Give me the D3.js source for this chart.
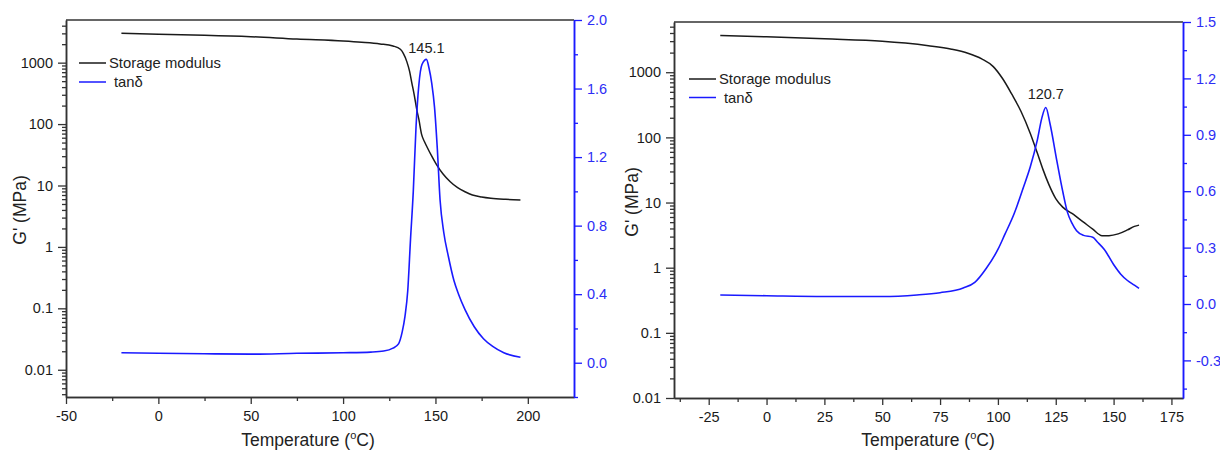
<!DOCTYPE html>
<html>
<head>
<meta charset="utf-8">
<script src="https://cdn.jsdelivr.net/npm/d3@7"></script>
<style>
  body { margin: 0; background: #fff; }
  svg { font-family: "Liberation Sans", Arial, sans-serif; }
</style>
</head>
<body>
<svg width="1220" height="451"></svg>
<script>
// left panel: storage modulus (MPa) and tan delta vs temperature
var modTempA = [-20, 0, 25, 50, 75, 100, 110, 120, 127, 131, 132.6, 134.5, 136, 137.2, 138.5, 140, 141, 142.5, 144, 145.5, 148, 150.5, 154, 158, 162, 166, 170, 175, 180, 188, 196];
var modA = [3000, 2900, 2800, 2650, 2420, 2250, 2150, 2020, 1870, 1650, 1420, 1040, 720, 470, 300, 165, 120, 68, 52, 42, 30, 22, 15.5, 11.5, 9.2, 7.9, 7.0, 6.5, 6.2, 5.95, 5.8];
var tanTempA = [-20, 0, 25, 50, 75, 100, 115, 122, 127, 130, 132, 133.5, 135, 136.5, 138, 139.5, 141, 142.7, 145.1, 146.5, 148, 149.5, 151, 152.5, 154.5, 157, 160, 162.5, 166, 171, 176, 181, 187, 196];
var tanA = [0.058, 0.055, 0.052, 0.050, 0.055, 0.058, 0.062, 0.068, 0.085, 0.11, 0.18, 0.27, 0.42, 0.72, 1.0, 1.38, 1.62, 1.74, 1.77, 1.72, 1.63, 1.49, 1.25, 0.95, 0.76, 0.62, 0.48, 0.40, 0.31, 0.21, 0.14, 0.095, 0.058, 0.032];
var peakA = 145.1;

// right panel
var modTempB = [-20, 0, 25, 50, 60, 70, 80, 87, 93, 98, 102, 106, 110, 114, 117, 119.5, 122, 125, 128, 132, 137, 141, 145, 148, 152, 156, 159, 161];
var modB = [3650, 3500, 3250, 3000, 2800, 2550, 2250, 1950, 1600, 1220, 800, 460, 250, 115, 58, 32, 19, 11.5, 8.5, 6.8, 5.0, 3.9, 3.1, 3.1, 3.3, 3.8, 4.3, 4.5];
var tanTempB = [-20, 0, 25, 50, 65, 75, 85, 90, 95, 100, 103, 107, 111, 114, 117, 119, 120.7, 122.5, 125.5, 128, 130, 132, 134, 137, 141, 143, 146, 150, 153, 156, 159, 161];
var tanB = [0.048, 0.044, 0.040, 0.040, 0.048, 0.060, 0.085, 0.115, 0.19, 0.29, 0.37, 0.48, 0.62, 0.73, 0.87, 0.99, 1.045, 0.96, 0.76, 0.60, 0.49, 0.43, 0.39, 0.365, 0.355, 0.33, 0.29, 0.21, 0.16, 0.125, 0.10, 0.083];
var peakB = 120.7;

// tick values
var xMajorA = [-50, 0, 50, 100, 150, 200];
var xMinorA = [-25, 25, 75, 125, 175];
var xMajorB = [-25, 0, 25, 50, 75, 100, 125, 150, 175];
var xMinorB = [-37.5, -12.5, 12.5, 37.5, 62.5, 87.5, 112.5, 137.5, 162.5];
var logMajorA = [0.01, 0.1, 1, 10, 100, 1000];
var logMajorB = [0.01, 0.1, 1, 10, 100, 1000];
var tanMajorA = [0, 0.4, 0.8, 1.2, 1.6, 2.0];
var tanMinorA = [-0.2, 0.2, 0.6, 1.0, 1.4, 1.8];
var tanMajorB = [-0.3, 0, 0.3, 0.6, 0.9, 1.2, 1.5];
var tanMinorB = [-0.45, -0.15, 0.15, 0.45, 0.75, 1.05, 1.35];

var black = "#1a1a1a", blue = "#1a1aff", blueText = "#2d2df5";
var svg = d3.select("svg");

function zip(a, b) {
  return a.map(function(d, i) { return [d, b[i]]; });
}

// minor log ticks (2..9 times each decade) inside the domain
function logMinor(domain) {
  var out = [];
  for (var e = -4; e <= 4; e++) {
    for (var k = 2; k <= 9; k++) {
      var v = k * Math.pow(10, e);
      if (v >= domain[0] && v <= domain[1]) out.push(v);
    }
  }
  return out;
}

function styleAxis(sel, color, textColor) {
  sel.selectAll("path.domain").attr("stroke", color).attr("stroke-width", 1.5);
  sel.selectAll(".tick line").attr("stroke", color).attr("stroke-width", 1.3);
  sel.selectAll("text").attr("fill", textColor).attr("font-size", "14.5px")
    .attr("font-family", "'Liberation Sans', Arial, sans-serif");
}

function panel(p) {
  var g = svg.append("g");
  var x = d3.scaleLinear().domain(p.xDomain).range([p.x0, p.x1]);
  var yLog = d3.scaleLog().domain(p.logDomain).range([p.y1, p.y0]);
  var yTan = d3.scaleLinear().domain(p.tanDomain).range([p.y1, p.y0]);

  // top frame
  g.append("line")
    .attr("x1", p.x0).attr("x2", p.x1).attr("y1", p.y0).attr("y2", p.y0)
    .attr("stroke", "#333").attr("stroke-width", 1.5);

  // bottom axis
  g.append("g").attr("transform", "translate(0," + p.y1 + ")")
    .call(d3.axisBottom(x).tickValues(p.xMinor).tickSize(4).tickSizeOuter(0).tickFormat(""))
    .call(styleAxis, "#333", black);
  g.append("g").attr("transform", "translate(0," + p.y1 + ")")
    .call(d3.axisBottom(x).tickValues(p.xMajor).tickSize(7).tickSizeOuter(0).tickPadding(7)
      .tickFormat(function(d) { return String(d); }))
    .call(styleAxis, "#333", black);

  // left log axis
  g.append("g").attr("transform", "translate(" + p.x0 + ",0)")
    .call(d3.axisLeft(yLog).tickValues(logMinor(p.logDomain)).tickSize(4).tickSizeOuter(0).tickFormat(""))
    .call(styleAxis, "#333", black);
  g.append("g").attr("transform", "translate(" + p.x0 + ",0)")
    .call(d3.axisLeft(yLog).tickValues(p.logMajor).tickSize(8).tickSizeOuter(0).tickPadding(5)
      .tickFormat(function(d) { return String(d); }))
    .call(styleAxis, "#333", black);

  // right tan axis
  g.append("g").attr("transform", "translate(" + p.x1 + ",0)")
    .call(d3.axisRight(yTan).tickValues(p.tanMinor).tickSize(4).tickSizeOuter(0).tickFormat(""))
    .call(styleAxis, blue, blueText);
  g.append("g").attr("transform", "translate(" + p.x1 + ",0)")
    .call(d3.axisRight(yTan).tickValues(p.tanMajor).tickSize(8).tickSizeOuter(0).tickPadding(5)
      .tickFormat(function(d) { return d.toFixed(1); }))
    .call(styleAxis, blue, blueText);

  // curves
  var lineMod = d3.line()
    .x(function(d) { return x(d[0]); })
    .y(function(d) { return yLog(d[1]); })
    .curve(d3.curveMonotoneX);
  var lineTan = d3.line()
    .x(function(d) { return x(d[0]); })
    .y(function(d) { return yTan(d[1]); })
    .curve(d3.curveMonotoneX);

  g.append("path").datum(zip(p.modT, p.mod))
    .attr("d", lineMod).attr("fill", "none").attr("stroke", black).attr("stroke-width", 1.5);
  g.append("path").datum(zip(p.tanT, p.tan))
    .attr("d", lineTan).attr("fill", "none").attr("stroke", blue).attr("stroke-width", 1.6);

  // peak label
  var iPeak = p.tanT.indexOf(p.peak);
  g.append("text")
    .attr("x", x(p.peak)).attr("y", yTan(p.tan[iPeak]) + p.peakDy)
    .attr("text-anchor", "middle").attr("font-size", "14.5px").attr("fill", "#222")
    .text(p.peak.toFixed(1));

  // legend
  var leg = g.append("g").attr("transform", "translate(" + p.legX + "," + p.legY + ")");
  leg.append("line").attr("x1", 0).attr("x2", 27).attr("y1", 0).attr("y2", 0)
    .attr("stroke", black).attr("stroke-width", 1.5);
  leg.append("text").attr("x", 30).attr("y", 5).attr("font-size", "14.8px").attr("fill", "#222")
    .text("Storage modulus");
  leg.append("line").attr("x1", 0).attr("x2", 27).attr("y1", p.legGap).attr("y2", p.legGap)
    .attr("stroke", blue).attr("stroke-width", 1.5);
  leg.append("text").attr("x", 35).attr("y", p.legGap + 5).attr("font-size", "14.8px").attr("fill", "#222")
    .text("tanδ");

  // axis titles
  var xt = g.append("text")
    .attr("x", p.xTitleX).attr("y", 446)
    .attr("text-anchor", "middle").attr("font-size", "17.5px").attr("fill", "#222");
  xt.append("tspan").text("Temperature (");
  xt.append("tspan").attr("font-size", "11px").attr("dy", -7).text("o");
  xt.append("tspan").attr("dy", 7).text("C)");

  g.append("text")
    .attr("transform", "translate(" + p.yTitleX + "," + p.yTitleY + ") rotate(-90)")
    .attr("text-anchor", "middle").attr("font-size", "17.5px").attr("fill", "#222")
    .text("G' (MPa)");
}

panel({
  x0: 66, x1: 574, y0: 20, y1: 397,
  xDomain: [-50, 225], logDomain: [0.0036, 4950], tanDomain: [-0.2, 2.0],
  xMajor: xMajorA, xMinor: xMinorA, logMajor: logMajorA,
  tanMajor: tanMajorA, tanMinor: tanMinorA,
  modT: modTempA, mod: modA, tanT: tanTempA, tan: tanA, peak: peakA, peakDy: -6,
  legX: 79, legY: 63, legGap: 19,
  xTitleX: 308, yTitleX: 26, yTitleY: 210
});

panel({
  x0: 674, x1: 1183, y0: 22, y1: 398,
  xDomain: [-40, 180], logDomain: [0.01, 5900], tanDomain: [-0.5, 1.5],
  xMajor: xMajorB, xMinor: xMinorB, logMajor: logMajorB,
  tanMajor: tanMajorB, tanMinor: tanMinorB,
  modT: modTempB, mod: modB, tanT: tanTempB, tan: tanB, peak: peakB, peakDy: -9,
  legX: 689, legY: 79, legGap: 18.5,
  xTitleX: 928, yTitleX: 638, yTitleY: 202
});
</script>
</body>
</html>
